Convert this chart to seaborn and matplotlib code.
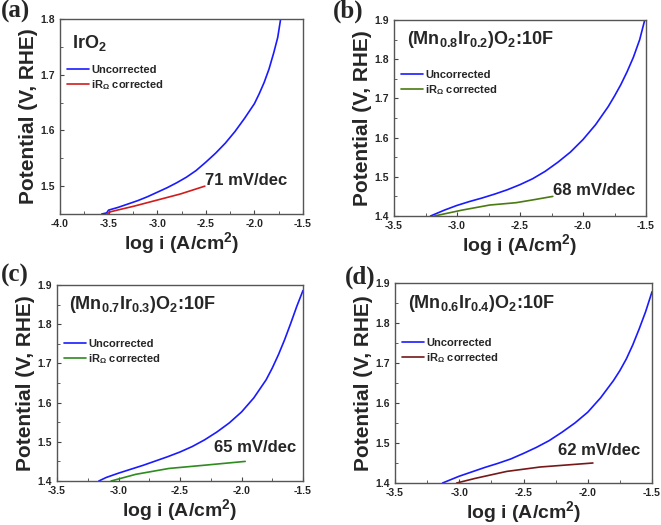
"""
Tafel plots (uncorrected vs iR-corrected) for IrO2 and three
(Mn,Ir)O2:10F compositions, laid out as a 2x2 panel figure.
"""
import matplotlib
matplotlib.use('Agg')
import matplotlib.pyplot as plt
from matplotlib.ticker import MultipleLocator
import seaborn as sns

# panel (a) IrO2
a_unc_x = [-3.57, -3.52, -3.50, -3.40, -3.30, -3.20, -3.10, -3.00, -2.90,
           -2.80, -2.70, -2.60, -2.50, -2.40, -2.30, -2.20, -2.10, -2.00,
           -1.95, -1.90, -1.85, -1.80, -1.76, -1.73]
a_unc_y = [1.450, 1.452, 1.457, 1.462, 1.468, 1.474, 1.481, 1.489, 1.497,
           1.506, 1.516, 1.528, 1.543, 1.559, 1.577, 1.598, 1.622, 1.648,
           1.666, 1.686, 1.710, 1.740, 1.767, 1.800]
a_cor_x = [-3.52, -3.50, -3.48, -3.41, -3.24, -3.00, -2.76, -2.51]
a_cor_y = [1.450, 1.452, 1.454, 1.457, 1.464, 1.475, 1.486, 1.500]

# panel (b) (Mn0.8Ir0.2)O2:10F
b_unc_x = [-3.21, -3.10, -3.00, -2.90, -2.80, -2.70, -2.60, -2.50, -2.40,
           -2.30, -2.20, -2.10, -2.00, -1.90, -1.80, -1.75, -1.70, -1.65,
           -1.60, -1.55, -1.51]
b_unc_y = [1.400, 1.415, 1.427, 1.437, 1.446, 1.456, 1.467, 1.480, 1.495,
           1.514, 1.537, 1.563, 1.595, 1.633, 1.679, 1.706, 1.735, 1.768,
           1.805, 1.850, 1.900]
b_cor_x = [-3.18, -2.96, -2.74, -2.53, -2.40, -2.24]
b_cor_y = [1.400, 1.415, 1.428, 1.434, 1.441, 1.450]

# panel (c) (Mn0.7Ir0.3)O2:10F
c_unc_x = [-3.16, -3.10, -3.00, -2.90, -2.80, -2.70, -2.60, -2.50, -2.40,
           -2.30, -2.20, -2.10, -2.00, -1.90, -1.80, -1.75, -1.70, -1.65,
           -1.60, -1.55, -1.50]
c_unc_y = [1.400, 1.409, 1.420, 1.430, 1.440, 1.451, 1.462, 1.474, 1.488,
           1.505, 1.525, 1.548, 1.576, 1.612, 1.658, 1.688, 1.722, 1.760,
           1.802, 1.846, 1.886]
c_cor_x = [-3.06, -2.86, -2.59, -2.31, -1.97]
c_cor_y = [1.400, 1.417, 1.432, 1.440, 1.450]

# panel (d) (Mn0.6Ir0.4)O2:10F
d_unc_x = [-3.13, -3.00, -2.90, -2.80, -2.70, -2.60, -2.50, -2.40, -2.30,
           -2.20, -2.10, -2.00, -1.90, -1.80, -1.75, -1.70, -1.65, -1.60,
           -1.55, -1.50]
d_unc_y = [1.400, 1.417, 1.428, 1.439, 1.449, 1.460, 1.474, 1.489, 1.506,
           1.527, 1.550, 1.577, 1.613, 1.656, 1.681, 1.710, 1.745, 1.785,
           1.828, 1.878]
d_cor_x = [-3.02, -2.87, -2.63, -2.37, -1.96]
d_cor_y = [1.400, 1.412, 1.429, 1.440, 1.450]

panel_letters = ['(a)', '(b)', '(c)', '(d)']
materials = ['IrO$_2$', '(Mn$_{0.8}$Ir$_{0.2}$)O$_2$:10F',
             '(Mn$_{0.7}$Ir$_{0.3}$)O$_2$:10F',
             '(Mn$_{0.6}$Ir$_{0.4}$)O$_2$:10F']
slopes = ['71 mV/dec', '68 mV/dec', '65 mV/dec', '62 mV/dec']
slope_pos = [(-2.51, 1.511), (-2.24, 1.466), (-2.22, 1.485), (-2.23, 1.481)]
xlims = [(-4.0, -1.5), (-3.5, -1.5), (-3.5, -1.5), (-3.5, -1.5)]
ylims = [(1.45, 1.8), (1.4, 1.9), (1.4, 1.9), (1.4, 1.9)]
cor_colors = ['#d01c1c', '#4b7a12', '#2e8b1e', '#761818']
material_y = [0.875, 0.90, 0.90, 0.895]
legend_y = [0.80, 0.78, 0.76, 0.76]

W, H = 661, 525
# axes boxes in pixels: left, right, top, bottom
boxes = [(60, 303, 19, 214), (394, 646, 20, 216),
         (57, 303, 285, 481), (395, 652, 283, 483)]
letter_pos = [(1, 0), (333, 0), (1, 264), (345, 266)]


def tafel_panel(fig, i, unc_x, unc_y, cor_x, cor_y):
    """
    Draws one Tafel panel with the uncorrected and iR-corrected curves
    """
    l, r, t, b = boxes[i]
    ax = fig.add_axes([l / W, 1 - b / H, (r - l) / W, (b - t) / H])
    sns.lineplot(x=unc_x, y=unc_y, ax=ax, color='#1a1aff', linewidth=1.2,
                 sort=False, estimator=None, label='Uncorrected')
    sns.lineplot(x=cor_x, y=cor_y, ax=ax, color=cor_colors[i],
                 linewidth=1.2, sort=False, estimator=None,
                 label='iR$_\\Omega$ corrected')
    ax.set_xlim(*xlims[i])
    ax.set_ylim(*ylims[i])
    ax.xaxis.set_major_locator(MultipleLocator(0.5))
    ax.xaxis.set_minor_locator(MultipleLocator(0.25))
    ax.yaxis.set_major_locator(MultipleLocator(0.1))
    ax.yaxis.set_minor_locator(MultipleLocator(0.05))
    ax.tick_params(which='both', direction='in', labelsize=7.5,
                   color='#444444')
    ax.tick_params(which='major', length=3)
    ax.tick_params(which='minor', length=2)
    for lab in ax.get_xticklabels() + ax.get_yticklabels():
        lab.set_fontweight('bold')
    for s in ax.spines.values():
        s.set_color('#555555')
        s.set_linewidth(1)
    ax.set_xlabel('log i (A/cm$^2$)', fontsize=14, fontweight='bold',
                  labelpad=1)
    ax.set_ylabel('Potential (V, RHE)', fontsize=15, fontweight='bold',
                  labelpad=2)
    ax.legend(loc='upper left', bbox_to_anchor=(0.0, legend_y[i]),
              frameon=False, prop={'size': 8, 'weight': 'bold'},
              handlelength=2.0, handletextpad=0.2, labelspacing=0.3,
              borderaxespad=0.2)
    ax.text(0.05, material_y[i], materials[i], transform=ax.transAxes,
            fontsize=13, fontweight='bold', va='center', ha='left')
    ax.text(slope_pos[i][0], slope_pos[i][1], slopes[i], fontsize=12,
            fontweight='bold', va='center', ha='left')
    lx, ly = letter_pos[i]
    fig.text(lx / W, 1 - ly / H, panel_letters[i], fontsize=18,
             fontweight='bold', family='Liberation Serif', va='top',
             ha='left')
    return ax


def main():
    sns.set_style('ticks')
    plt.rcParams['font.family'] = ['Liberation Sans', 'DejaVu Sans']
    plt.rcParams['axes.unicode_minus'] = False
    plt.rcParams['mathtext.fontset'] = 'custom'
    plt.rcParams['mathtext.rm'] = 'Liberation Sans:bold'
    plt.rcParams['mathtext.bf'] = 'Liberation Sans:bold'
    plt.rcParams['mathtext.default'] = 'bf'

    fig = plt.figure(figsize=(W / 100, H / 100), dpi=100)
    tafel_panel(fig, 0, a_unc_x, a_unc_y, a_cor_x, a_cor_y)
    tafel_panel(fig, 1, b_unc_x, b_unc_y, b_cor_x, b_cor_y)
    tafel_panel(fig, 2, c_unc_x, c_unc_y, c_cor_x, c_cor_y)
    tafel_panel(fig, 3, d_unc_x, d_unc_y, d_cor_x, d_cor_y)
    fig.savefig('out.png', dpi=100)


if __name__ == '__main__':
    main()
